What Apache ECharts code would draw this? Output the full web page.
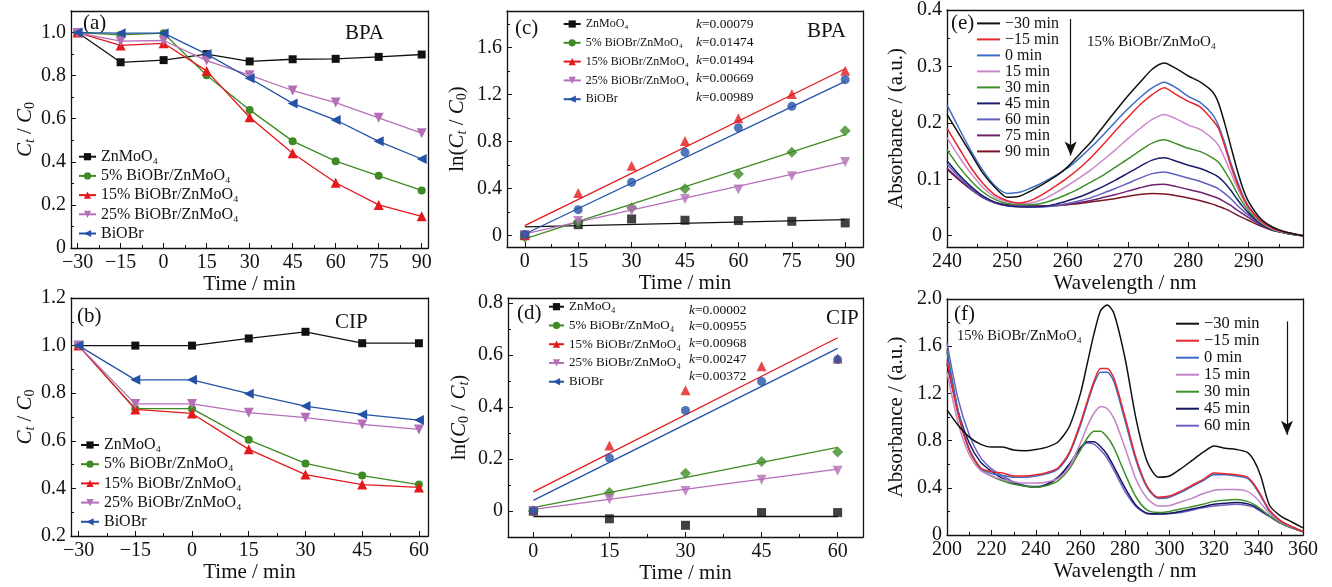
<!DOCTYPE html>
<html>
<head>
<meta charset="utf-8">
<script src="https://cdn.jsdelivr.net/npm/echarts@6/dist/echarts.min.js"></script>
<style>
  html, body { margin: 0; padding: 0; background: #fff; }
  #chart { width: 1332px; height: 587px; }
</style>
</head>
<body>
<div id="chart"></div>
<script>
// ---------- (a) BPA removal, Ct/C0 ----------
const timeBPA = [-30, -15, 0, 15, 30, 45, 60, 75, 90];
const bpaZn = [1.0, 0.862, 0.872, 0.9, 0.866, 0.876, 0.878, 0.887, 0.898];
const bpa5  = [1.0, 0.989, 0.997, 0.802, 0.641, 0.496, 0.403, 0.335, 0.267];
const bpa15 = [1.0, 0.94, 0.95, 0.822, 0.607, 0.44, 0.303, 0.2, 0.147];
const bpa25 = [0.998, 0.96, 0.963, 0.87, 0.802, 0.731, 0.675, 0.604, 0.533];
const bpaBi = [1.0, 0.997, 0.997, 0.9, 0.788, 0.671, 0.594, 0.495, 0.413];

// ---------- (b) CIP removal, Ct/C0 ----------
const timeCIP = [-30, -15, 0, 15, 30, 45, 60];
const cipZn = [1.0, 1.0, 1.0, 1.03, 1.058, 1.01, 1.01];
const cip5  = [1.0, 0.735, 0.735, 0.604, 0.505, 0.454, 0.416];
const cip15 = [1.0, 0.732, 0.715, 0.564, 0.458, 0.416, 0.404];
const cip25 = [1.0, 0.755, 0.755, 0.718, 0.697, 0.669, 0.648];
const cipBi = [1.0, 0.856, 0.856, 0.798, 0.746, 0.711, 0.687];

// ---------- (c) BPA kinetics ----------
const kinTimeBPA = [0, 15, 30, 45, 60, 75, 90];
const lnBpaZn = [0.0, 0.09, 0.139, 0.128, 0.125, 0.119, 0.105];
const lnBpa5  = [-0.014, 0.11, 0.235, 0.397, 0.522, 0.706, 0.891];
const lnBpa15 = [0.0, 0.36, 0.593, 0.803, 0.996, 1.203, 1.401];
const lnBpa25 = [0.0, 0.122, 0.21, 0.309, 0.39, 0.502, 0.624];
const lnBpaBi = [0.006, 0.218, 0.451, 0.706, 0.916, 1.098, 1.325];
// fitted lines: value at first and last time
const fitBpaZn = [0.071, 0.133];
const fitBpa5  = [-0.031, 0.857];
const fitBpa15 = [0.082, 1.418];
const fitBpa25 = [0.011, 0.62];
const fitBpaBi = [0.011, 1.31];
const kBPA = ['0.00079', '0.01474', '0.01494', '0.00669', '0.00989'];

// ---------- (d) CIP kinetics ----------
const kinTimeCIP = [0, 15, 30, 45, 60];
const lnCipZn = [0.0, -0.03, -0.055, -0.006, -0.006];
const lnCip5  = [0.0, 0.071, 0.145, 0.191, 0.227];
const lnCip15 = [0.003, 0.252, 0.465, 0.557, 0.587];
const lnCip25 = [0.0, 0.045, 0.077, 0.12, 0.155];
const lnCipBi = [0.0, 0.204, 0.387, 0.499, 0.583];
const fitCipZn = [-0.021, -0.021];
const fitCip5  = [0.013, 0.245];
const fitCip15 = [0.074, 0.667];
const fitCip25 = [0.006, 0.161];
const fitCipBi = [0.041, 0.626];
const kCIP = ['0.00002', '0.00955', '0.00968', '0.00247', '0.00372'];

// ---------- (e) BPA spectra ----------
const waveE = [240,242,244,246,248,250,252,254,256,258,260,262,264,266,268,270,272,274,276,278,280,282,284,285,286,287,288,289,290,292,294,296,299];
const absE_m30 = [0.215,0.18,0.145,0.11,0.085,0.068,0.07,0.08,0.092,0.105,0.122,0.145,0.168,0.195,0.222,0.248,0.272,0.295,0.306,0.296,0.283,0.272,0.255,0.235,0.2,0.16,0.12,0.085,0.06,0.03,0.015,0.007,0.0];
const absE_m15 = [0.19,0.155,0.12,0.092,0.072,0.062,0.058,0.063,0.074,0.088,0.103,0.12,0.14,0.163,0.187,0.21,0.232,0.25,0.262,0.25,0.238,0.228,0.205,0.19,0.16,0.125,0.095,0.07,0.05,0.026,0.013,0.006,0.0];
const absE_0   = [0.232,0.19,0.15,0.115,0.088,0.075,0.077,0.085,0.095,0.107,0.12,0.138,0.158,0.18,0.203,0.225,0.245,0.262,0.272,0.262,0.247,0.236,0.215,0.195,0.165,0.13,0.1,0.072,0.052,0.027,0.013,0.006,0.0];
const absE_15  = [0.174,0.14,0.11,0.085,0.068,0.06,0.057,0.058,0.065,0.076,0.089,0.103,0.118,0.135,0.153,0.172,0.19,0.206,0.215,0.207,0.196,0.188,0.172,0.16,0.138,0.113,0.088,0.066,0.048,0.025,0.012,0.006,0.0];
const absE_30  = [0.152,0.122,0.097,0.077,0.064,0.057,0.055,0.055,0.058,0.065,0.074,0.084,0.096,0.108,0.122,0.136,0.151,0.164,0.17,0.163,0.155,0.149,0.138,0.13,0.115,0.097,0.077,0.059,0.044,0.023,0.011,0.005,0.0];
const absE_45  = [0.133,0.108,0.087,0.07,0.059,0.053,0.051,0.051,0.052,0.056,0.062,0.069,0.078,0.088,0.099,0.111,0.123,0.134,0.138,0.132,0.125,0.119,0.11,0.104,0.094,0.081,0.066,0.052,0.04,0.021,0.01,0.005,0.0];
const absE_60  = [0.127,0.104,0.084,0.068,0.058,0.053,0.052,0.051,0.051,0.053,0.057,0.062,0.068,0.076,0.084,0.093,0.102,0.11,0.113,0.108,0.102,0.096,0.088,0.083,0.075,0.066,0.055,0.045,0.036,0.02,0.01,0.005,0.0];
const absE_75  = [0.12,0.1,0.082,0.067,0.058,0.054,0.053,0.053,0.053,0.054,0.056,0.059,0.063,0.068,0.073,0.079,0.085,0.09,0.091,0.087,0.082,0.077,0.07,0.066,0.06,0.054,0.046,0.039,0.032,0.019,0.01,0.005,0.0];
const absE_90  = [0.118,0.099,0.082,0.068,0.059,0.055,0.054,0.053,0.053,0.053,0.055,0.057,0.06,0.063,0.066,0.07,0.073,0.075,0.074,0.071,0.067,0.062,0.056,0.052,0.048,0.043,0.037,0.032,0.027,0.017,0.009,0.005,0.0];

// ---------- (f) CIP spectra ----------
const waveF = [200,205,210,215,220,225,230,235,240,245,250,255,260,263,266,269,272,275,280,285,290,295,300,305,310,315,320,325,330,335,338,341,345,350,355,360];
const absF_m30 = [1.06,0.93,0.83,0.77,0.745,0.745,0.72,0.715,0.725,0.745,0.79,0.92,1.2,1.45,1.7,1.9,1.95,1.88,1.5,0.98,0.62,0.49,0.5,0.56,0.63,0.7,0.755,0.735,0.725,0.7,0.63,0.5,0.25,0.16,0.11,0.06];
const absF_m15 = [1.48,1.02,0.72,0.57,0.535,0.525,0.5,0.5,0.51,0.53,0.57,0.7,0.95,1.13,1.3,1.41,1.41,1.33,1.0,0.65,0.41,0.32,0.33,0.37,0.42,0.47,0.525,0.52,0.51,0.49,0.43,0.34,0.21,0.12,0.07,0.03];
const absF_0   = [1.55,1.05,0.73,0.57,0.52,0.505,0.49,0.49,0.5,0.52,0.56,0.69,0.93,1.11,1.28,1.38,1.38,1.3,0.97,0.63,0.4,0.31,0.32,0.36,0.41,0.46,0.51,0.51,0.5,0.48,0.42,0.33,0.2,0.12,0.07,0.03];
const absF_15  = [1.38,0.95,0.68,0.55,0.5,0.47,0.45,0.44,0.44,0.45,0.48,0.58,0.78,0.92,1.03,1.09,1.07,0.99,0.74,0.47,0.31,0.245,0.25,0.28,0.31,0.35,0.38,0.385,0.385,0.37,0.33,0.27,0.18,0.11,0.065,0.03];
const absF_30  = [1.57,1.05,0.72,0.56,0.5,0.46,0.43,0.415,0.405,0.42,0.46,0.56,0.72,0.82,0.88,0.88,0.83,0.74,0.52,0.32,0.21,0.19,0.2,0.22,0.24,0.26,0.285,0.295,0.3,0.285,0.26,0.22,0.16,0.1,0.06,0.03];
const absF_45  = [1.45,1.05,0.78,0.62,0.54,0.48,0.44,0.415,0.405,0.43,0.49,0.6,0.74,0.79,0.79,0.75,0.68,0.58,0.4,0.25,0.185,0.18,0.185,0.2,0.22,0.24,0.26,0.27,0.275,0.265,0.245,0.21,0.16,0.1,0.06,0.03];
const absF_60  = [1.63,1.15,0.85,0.66,0.56,0.5,0.45,0.42,0.41,0.43,0.49,0.6,0.73,0.78,0.77,0.72,0.65,0.55,0.37,0.24,0.18,0.175,0.18,0.19,0.21,0.23,0.245,0.255,0.26,0.25,0.235,0.2,0.155,0.1,0.06,0.025];

// ---------- labels, tick values ----------
const sampleNames = ['ZnMoO\u2084', '5% BiOBr/ZnMoO\u2084', '15% BiOBr/ZnMoO\u2084', '25% BiOBr/ZnMoO\u2084', 'BiOBr'];
const specNamesE = ['\u221230 min', '\u221215 min', '0 min', '15 min', '30 min', '45 min', '60 min', '75 min', '90 min'];
const specNamesF = ['\u221230 min', '\u221215 min', '0 min', '15 min', '30 min', '45 min', '60 min'];

const ticksXa = [-30, -15, 0, 15, 30, 45, 60, 75, 90];
const minorXa = [-22.5, -7.5, 7.5, 22.5, 37.5, 52.5, 67.5, 82.5];
const ticksYa = [0, 0.2, 0.4, 0.6, 0.8, 1.0];
const minorYa = [0.1, 0.3, 0.5, 0.7, 0.9];
const ticksXb = [-30, -15, 0, 15, 30, 45, 60];
const minorXb = [-22.5, -7.5, 7.5, 22.5, 37.5, 52.5];
const ticksYb = [0.2, 0.4, 0.6, 0.8, 1.0, 1.2];
const minorYb = [0.3, 0.5, 0.7, 0.9, 1.1];
const ticksXc = [0, 15, 30, 45, 60, 75, 90];
const minorXc = [7.5, 22.5, 37.5, 52.5, 67.5, 82.5];
const ticksYc = [0, 0.4, 0.8, 1.2, 1.6];
const minorYc = [0.2, 0.6, 1.0, 1.4, 1.8];
const ticksXd = [0, 15, 30, 45, 60];
const minorXd = [7.5, 22.5, 37.5, 52.5];
const ticksYd = [0, 0.2, 0.4, 0.6, 0.8];
const minorYd = [0.1, 0.3, 0.5, 0.7];
const ticksXe = [240, 250, 260, 270, 280, 290];
const minorXe = [245, 255, 265, 275, 285, 295];
const ticksYe = [0, 0.1, 0.2, 0.3, 0.4];
const minorYe = [0.05, 0.15, 0.25, 0.35];
const ticksXf = [200, 220, 240, 260, 280, 300, 320, 340, 360];
const minorXf = [210, 230, 250, 270, 290, 310, 330, 350];
const ticksYf = [0, 0.4, 0.8, 1.2, 1.6, 2.0];
const minorYf = [0.2, 0.6, 1.0, 1.4, 1.8];

// arrows marking decreasing absorbance: [x, yStart, yEnd]
const arrowE = [260.5, 0.384, 0.142];
const arrowF = [352.8, 1.81, 0.85];

// ---------- styling ----------
const FONT = 'Liberation Serif';
const ink = '#111111';
const sampleColors = ['#111111', '#3f8a24', '#e3191c', '#b56fb8', '#2452a6'];
const sampleSymbols = ['rect', 'circle', 'triangle', 'triangle', 'triangle'];
const sampleRotate = [0, 0, 0, 180, 90];
const pointSymbols = ['rect', 'diamond', 'triangle', 'triangle', 'circle'];
const pointRotate = [0, 0, 0, 180, 0];
const specColorsE = ['#111111', '#e8262d', '#3a6cc4', '#cc88cc', '#3f8f2a', '#1c1c6e', '#6060c0', '#702070', '#7a1528'];
const specColorsF = ['#111111', '#e8262d', '#3a6cc4', '#c482c8', '#3f8f2a', '#15155e', '#6a62c8'];

const numFmt = v => (v === 0 ? '0' : v.toFixed(1)).replace('-', '\u2212');
const intFmt = v => String(v).replace('-', '\u2212');

const grids = [
  { left: 71, top: 11, width: 357, height: 237 },
  { left: 71, top: 298, width: 357, height: 238 },
  { left: 507, top: 11, width: 356, height: 236 },
  { left: 508, top: 298, width: 355, height: 239 },
  { left: 947, top: 9, width: 356, height: 238 },
  { left: 947, top: 299, width: 356, height: 236 }
];

const subRich = {
  ci: { fontStyle: 'italic', fontFamily: FONT, fontSize: 21, lineHeight: 24, color: ink },
  n: { fontFamily: FONT, fontSize: 21, lineHeight: 24, color: ink },
  ti: { fontStyle: 'italic', fontFamily: FONT, fontSize: 14, lineHeight: 13, verticalAlign: 'bottom', color: ink },
  z: { fontFamily: FONT, fontSize: 14, lineHeight: 13, verticalAlign: 'bottom', color: ink }
};
const nameStyle = { fontFamily: FONT, fontSize: 21, color: ink, rich: subRich };

function axisSet(dim, gridIndex, range, majors, minors, fmt, name, nameGap) {
  const pos = dim === 'x' ? ['bottom', 'top'] : ['left', 'right'];
  const base = { gridIndex, type: 'value', min: range[0], max: range[1], splitLine: { show: false }, silent: true };
  const line = { show: true, onZero: false, lineStyle: { color: ink, width: 1.3 } };
  return [
    Object.assign({}, base, {
      position: pos[0], name, nameLocation: 'middle', nameGap, nameTextStyle: nameStyle,
      axisLine: line,
      axisTick: { show: true, inside: true, length: 5, customValues: majors, lineStyle: { color: ink, width: 1 } },
      axisLabel: { show: true, customValues: majors, formatter: fmt, margin: 5, color: ink, fontFamily: FONT, fontSize: 20 }
    }),
    Object.assign({}, base, {
      position: pos[0], axisLine: { show: false, onZero: false },
      axisTick: { show: true, inside: true, length: 3, customValues: minors, lineStyle: { color: ink, width: 1 } },
      axisLabel: { show: false }
    }),
    Object.assign({}, base, {
      position: pos[1], axisLine: line, axisTick: { show: false }, axisLabel: { show: false }
    })
  ];
}

const xAxes = [].concat(
  axisSet('x', 0, [-32.3, 92.2], ticksXa, minorXa, intFmt, 'Time / min', 24),
  axisSet('x', 1, [-32, 62.4], ticksXb, minorXb, intFmt, 'Time / min', 26),
  axisSet('x', 2, [-5, 95], ticksXc, minorXc, intFmt, 'Time / min', 23),
  axisSet('x', 3, [-5, 65], ticksXd, minorXd, intFmt, 'Time / min', 23),
  axisSet('x', 4, [240, 299], ticksXe, minorXe, intFmt, 'Wavelength / nm', 26),
  axisSet('x', 5, [200, 360], ticksXf, minorXf, intFmt, 'Wavelength / nm', 24)
);
const yAxes = [].concat(
  axisSet('y', 0, [0, 1.1], ticksYa, minorYa, numFmt, '{ci|C}{ti|t}{n| / }{ci|C}{z|0}', 34),
  axisSet('y', 1, [0.2, 1.2], ticksYb, minorYb, numFmt, '{ci|C}{ti|t}{n| / }{ci|C}{z|0}', 34),
  axisSet('y', 2, [-0.1, 1.91], ticksYc, minorYc, numFmt, '{n|ln(}{ci|C}{ti|t}{n| / }{ci|C}{z|0}{n|)}', 38),
  axisSet('y', 3, [-0.1, 0.82], ticksYd, minorYd, numFmt, '{n|ln(}{ci|C}{z|0}{n| / }{ci|C}{ti|t}{n|)}', 37),
  axisSet('y', 4, [-0.02, 0.4], ticksYe, minorYe, numFmt, '{n|Absorbance / (a.u.)}', 39),
  axisSet('y', 5, [0, 2.0], ticksYf, minorYf, numFmt, '{n|Absorbance / (a.u.)}', 39)
);

const pair = (xs, ys) => xs.map((x, i) => [x, ys[i]]);
const series = [];

// (a), (b): connected points
function ratioSeries(panel, g, times, sets) {
  sets.forEach((ys, i) => {
    series.push({
      type: 'line', name: panel + '|' + sampleNames[i],
      xAxisIndex: 3 * g, yAxisIndex: 3 * g,
      data: pair(times, ys),
      symbol: sampleSymbols[i], symbolRotate: sampleRotate[i],
      symbolSize: i >= 2 ? 10 : 8,
      itemStyle: { color: sampleColors[i] },
      lineStyle: { color: sampleColors[i], width: 1.3 },
      z: 2 + i
    });
  });
}
ratioSeries('a', 0, timeBPA, [bpaZn, bpa5, bpa15, bpa25, bpaBi]);
ratioSeries('b', 1, timeCIP, [cipZn, cip5, cip15, cip25, cipBi]);

// (c), (d): measured points and fitted lines
function kineticSeries(panel, g, times, sets, fits) {
  const t0 = times[0], t1 = times[times.length - 1];
  sets.forEach((ys, i) => {
    series.push({
      type: 'line', name: panel + '|' + sampleNames[i],
      xAxisIndex: 3 * g, yAxisIndex: 3 * g,
      data: [[t0, fits[i][0]], [t1, fits[i][1]]],
      showSymbol: false, symbol: sampleSymbols[i], symbolRotate: sampleRotate[i], symbolSize: 8,
      itemStyle: { color: sampleColors[i] },
      lineStyle: { color: sampleColors[i], width: 1.3 },
      z: 2
    });
    series.push({
      type: 'scatter', name: panel + ' points ' + i,
      xAxisIndex: 3 * g, yAxisIndex: 3 * g,
      data: pair(times, ys),
      symbol: pointSymbols[i], symbolRotate: pointRotate[i],
      symbolSize: pointSymbols[i] === 'triangle' ? 10 : (pointSymbols[i] === 'diamond' ? 11 : 9),
      itemStyle: { color: sampleColors[i] },
      z: 3
    });
  });
}
kineticSeries('c', 2, kinTimeBPA, [lnBpaZn, lnBpa5, lnBpa15, lnBpa25, lnBpaBi],
  [fitBpaZn, fitBpa5, fitBpa15, fitBpa25, fitBpaBi]);
kineticSeries('d', 3, kinTimeCIP, [lnCipZn, lnCip5, lnCip15, lnCip25, lnCipBi],
  [fitCipZn, fitCip5, fitCip15, fitCip25, fitCipBi]);

// (e), (f): absorption spectra
function spectrumSeries(panel, g, waves, sets, names, colors, arrow) {
  sets.forEach((ys, i) => {
    const s = {
      type: 'line', name: panel + '|' + names[i],
      xAxisIndex: 3 * g, yAxisIndex: 3 * g,
      data: pair(waves, ys),
      showSymbol: false, symbol: 'none', smooth: 0.25,
      itemStyle: { color: colors[i] },
      lineStyle: { color: colors[i], width: 1.5 },
      z: 2 + (sets.length - i)
    };
    if (i === 0) {
      s.markLine = {
        silent: true, symbol: ['none', 'arrow'], symbolSize: [9, 14],
        label: { show: false },
        lineStyle: { color: ink, width: 1.2, type: 'solid' },
        data: [[{ coord: [arrow[0], arrow[1]] }, { coord: [arrow[0], arrow[2]] }]]
      };
    }
    series.push(s);
  });
}
spectrumSeries('e', 4, waveE, [absE_m30, absE_m15, absE_0, absE_15, absE_30, absE_45, absE_60, absE_75, absE_90],
  specNamesE, specColorsE, arrowE);
spectrumSeries('f', 5, waveF, [absF_m30, absF_m15, absF_0, absF_15, absF_30, absF_45, absF_60],
  specNamesF, specColorsF, arrowF);

function legend(panel, names, opt) {
  return Object.assign({
    data: names.map(n => panel + '|' + n),
    orient: 'vertical', padding: 0, selectedMode: false,
    formatter: n => n.slice(panel.length + 1),
    textStyle: { fontFamily: FONT, fontSize: opt.fontSize, lineHeight: opt.lineHeight, color: ink }
  }, opt.box);
}

const legends = [
  legend('a', sampleNames, { fontSize: 16, lineHeight: 16, box: { left: 78, top: 148.7, itemWidth: 17, itemHeight: 9, itemGap: 3.2 } }),
  legend('b', sampleNames, { fontSize: 16, lineHeight: 16, box: { left: 80, top: 437, itemWidth: 18, itemHeight: 9, itemGap: 3.2 } }),
  legend('c', sampleNames, { fontSize: 12, lineHeight: 14, box: { left: 562.7, top: 17, itemWidth: 17, itemHeight: 9, itemGap: 4.8 } }),
  legend('d', sampleNames, { fontSize: 13, lineHeight: 14, box: { left: 548, top: 299.7, itemWidth: 15, itemHeight: 9, itemGap: 4.75 } }),
  legend('e', specNamesE, { fontSize: 16, lineHeight: 15.8, box: { left: 977, top: 15.4, itemWidth: 23, itemHeight: 2, itemGap: 0, icon: 'rect' } }),
  legend('f', specNamesF, { fontSize: 16.5, lineHeight: 16.2, box: { left: 1176, top: 315.2, itemWidth: 23, itemHeight: 2, itemGap: 0, icon: 'rect' } })
];

function text(str, left, top, size) {
  return { type: 'text', left, top, silent: true,
    style: { text: str, fontFamily: FONT, fontSize: size, lineHeight: size, fill: ink } };
}
function kBlock(values, left, top, size, lh) {
  return { type: 'text', left, top, silent: true,
    style: {
      text: values.map(v => '{i|k}{n|=' + v + '}').join('\n'),
      rich: {
        i: { fontFamily: FONT, fontStyle: 'italic', fontSize: size, lineHeight: lh, fill: ink },
        n: { fontFamily: FONT, fontSize: size, lineHeight: lh, fill: ink }
      }
    } };
}

const graphic = [
  text('(a)', 83, 13, 21), text('BPA', 345, 22.5, 21),
  text('(b)', 77, 306, 21), text('CIP', 335, 312, 21),
  text('(c)', 515, 18, 21), text('BPA', 807, 21, 21),
  text('(d)', 517, 302.7, 21), text('CIP', 826, 307.5, 21),
  text('(e)', 951, 13.3, 21), text('15% BiOBr/ZnMoO\u2084', 1087, 35, 15),
  text('(f)', 954, 304, 21), text('15% BiOBr/ZnMoO\u2084', 957, 328.7, 14.5),
  kBlock(kBPA, 696, 17.6, 13.5, 18.1),
  kBlock(kCIP, 689, 303.5, 13.5, 16.4)
];

const chart = echarts.init(document.getElementById('chart'), null, { renderer: 'canvas' });
chart.setOption({
  animation: false,
  backgroundColor: '#ffffff',
  grid: grids,
  xAxis: xAxes,
  yAxis: yAxes,
  legend: legends,
  series,
  graphic
});
</script>
</body>
</html>
